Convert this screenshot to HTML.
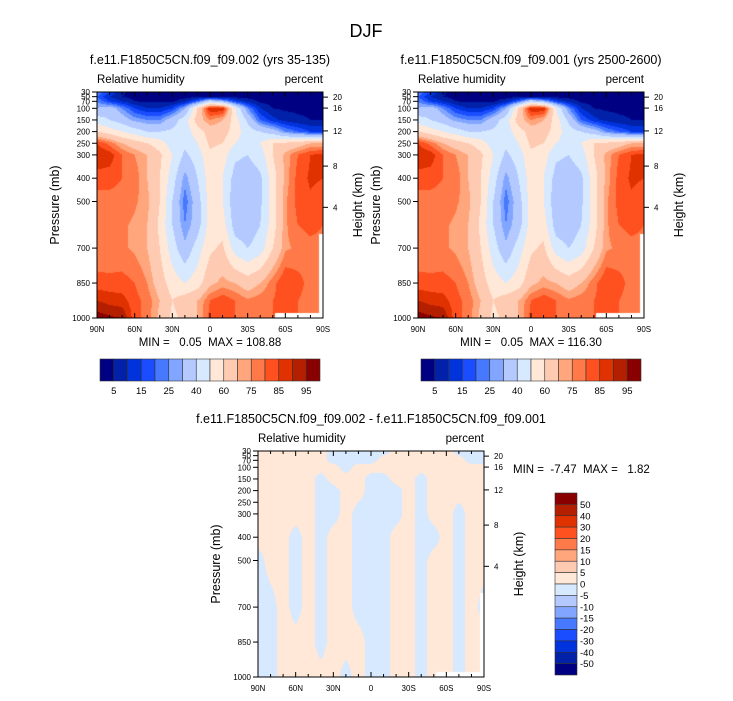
<!DOCTYPE html>
<html><head><meta charset="utf-8">
<style>
html,body{margin:0;padding:0;background:#fff;}
#root{position:relative;width:733px;height:701px;overflow:hidden;font-family:"Liberation Sans",sans-serif;}
canvas{position:absolute;}
svg{position:absolute;left:0;top:0;}
text{font-family:"Liberation Sans",sans-serif;fill:#000;white-space:pre;}
</style></head>
<body>
<div id="root">
<canvas id="c1" width="226" height="226" style="left:97px;top:92px"></canvas>
<canvas id="c2" width="226" height="226" style="left:418px;top:92px"></canvas>
<canvas id="c3" width="226" height="226" style="left:258px;top:451px"></canvas>
<svg id="svg" width="733" height="701"></svg>
</div>
<script>
// ---- data ----
const lats = [90,80,70,60,50,40,30,20,10,0,-10,-20,-30,-40,-50,-60,-70,-80,-90];
const levels = [30,50,70,100,150,200,250,300,400,500,600,700,850,925,1000];
const rhCase1 = [
[25,15,6,3,2,2,2,2,2,2,2,2,2,2,2,2,2,2,2],
[20,10,5,3,3,3,3,3,3,3,3,3,3,3,3,3,3,3,3],
[25,15,10,5,4,4,4,8,20,40,30,15,8,4,3,3,3,3,3],
[30,35,25,15,10,10,15,30,60,90,90,50,25,10,5,4,4,4,4],
[45,40,35,28,25,25,35,45,65,75,70,55,38,20,12,8,6,5,5],
[60,55,50,45,40,40,42,45,55,65,65,55,45,40,35,25,20,15,15],
[85,78,70,65,60,55,45,42,50,62,60,50,45,50,60,62,65,70,70],
[90,88,80,75,70,62,50,38,45,58,55,42,40,45,60,72,80,85,87],
[82,82,80,78,70,60,45,27,40,55,50,36,34,38,55,72,82,86,85],
[78,78,78,76,72,60,40,22,35,55,50,33,32,38,55,74,82,84,82],
[76,78,76,74,70,58,40,25,35,55,55,35,33,40,55,74,80,82,80],
[76,75,76,74,70,60,45,32,45,58,62,45,40,45,60,74,76,78,78],
[82,82,82,80,75,65,55,50,55,68,72,70,65,70,78,85,82,78,78],
[90,88,87,82,78,70,60,65,70,80,84,80,76,78,80,82,80,78,78],
[98,96,95,82,78,68,58,62,70,82,82,80,78,80,80,80,80,78,78]
];
const rhCase2 = rhCase1.map(r => r.slice());
const diffLevels = [30,70,100,150,200,300,400,500,700,850,1000];
const rhDiff = [
[1,1,1,1,1,1,-1,-1,-1,-1,-1,1,1,1,1,1,-1,-1,-1],
[1,1,1,1,1,1,-1,-1,-1,-1,1,1,1,1,1,1,1,-1,-1],
[1,1,1,1,1,1,1,-1,1,1,1,1,1,1,1,1,1,1,1],
[1,1,1,1,1,-1,1,1,1,-1,-1,1,1,-1,1,1,1,1,1],
[1,1,1,1,1,-1,-1,1,1,-1,-1,-1,1,-1,1,1,1,1,1],
[1,1,1,1,1,-1,-1,1,-1,-1,-1,-1,1,-1,1,1,-1,1,1],
[1,1,1,-1,1,-1,1,1,-1,-1,-1,1,1,-1,-1,1,-1,1,1],
[-1,1,1,-1,1,-1,1,1,-1,-1,-1,1,1,-1,1,1,-1,1,1],
[-1,-1,1,-1,1,-1,1,1,-1,-1,-1,1,1,-1,1,1,-1,1,-1],
[-1,-1,1,1,1,-1,1,1,1,-1,-1,1,1,-1,1,1,-1,1,1],
[-1,-1,1,1,1,1,1,-1,1,-1,-1,1,1,-1,1,1,-1,1,1]
];
const rhContours = [5,10,15,20,25,30,40,50,60,70,75,80,85,90,95];
const diffContours = [-50,-40,-30,-20,-15,-10,-5,0,5,10,15,20,30,40,50];
const rhLabels = ["5","15","25","40","60","75","85","95"];
const diffLabels = ["50","40","30","20","15","10","5","0","-5","-10","-15","-20","-30","-40","-50"];
const pTicks = [30,50,70,100,150,200,250,300,400,500,700,850,1000];
const hTicks = ["20","16","12","8","4"];
const hTickP = [52,99,197,348,525];
const latTicks = ["90N","60N","30N","0","30S","60S","90S"];
const palette = ['#000083','#0021a8','#0033dc','#1a4dff','#4679ff','#82a6ff','#b3c9ff','#d7e9ff','#ffe8d8','#ffcab2','#ffa67d','#ff7a48','#ff5020','#e03200','#b41f00','#890000'];

// ---- axes helpers ----
const S = 226;
const yP = p => (p - 30) / 970 * S;
const xL = l => (90 - l) / 180 * S;
// below-ground (missing) test
const missing = (l, p) => (p > 978 && l < -52) || (p > 640 && l < -87);

function field(ctx, grid, lv, cont) {
  const img = ctx.createImageData(S, S);
  for (let py = 0; py < S; py++) {
    const p = 30 + (py + 0.5) / S * 970;
    let i = 0; while (i < lv.length - 2 && lv[i + 1] < p) i++;
    const tp = Math.max(0, Math.min(1, (p - lv[i]) / (lv[i + 1] - lv[i])));
    for (let px = 0; px < S; px++) {
      const l = 90 - (px + 0.5) / S * 180;
      let j = Math.min(lats.length - 2, Math.floor((90 - l) / 10));
      const tl = (90 - l) / 10 - j;
      const cs = [[grid[i][j], (1 - tp) * (1 - tl)], [grid[i][j + 1], (1 - tp) * tl], [grid[i + 1][j], tp * (1 - tl)], [grid[i + 1][j + 1], tp * tl]];
      let sw = 0, sv = 0, nw = 0;
      cs.forEach(([v, w]) => { if (v === null) nw += w; else { sw += w; sv += v * w; } });
      const k = (py * S + px) * 4;
      let r = 255, g = 255, b = 255;
      if (nw < 0.5 && sw > 0 && !missing(l, p)) {
        const v = sv / sw;
        let idx = 0; while (idx < cont.length && v >= cont[idx]) idx++;
        const c = palette[idx];
        r = parseInt(c.substr(1, 2), 16); g = parseInt(c.substr(3, 2), 16); b = parseInt(c.substr(5, 2), 16);
      }
      img.data[k] = r; img.data[k + 1] = g; img.data[k + 2] = b; img.data[k + 3] = 255;
    }
  }
  ctx.putImageData(img, 0, 0);
}
field(document.getElementById('c1').getContext('2d'), rhCase1, levels, rhContours);
field(document.getElementById('c2').getContext('2d'), rhCase2, levels, rhContours);
field(document.getElementById('c3').getContext('2d'), rhDiff, diffLevels, diffContours);

const NS = 'http://www.w3.org/2000/svg';
const svg = document.getElementById('svg');
function el(tag, attrs, txt, parent) {
  const e = document.createElementNS(NS, tag);
  for (const k in attrs) e.setAttribute(k, attrs[k]);
  if (txt !== undefined) e.textContent = txt;
  (parent || svg).appendChild(e);
  return e;
}

function panel(x0, y0, name, title) {
  const g = el('g', {});
  
  
  const t = el('text', {x: x0 + S / 2, y: y0 - 28, 'font-size': 12.5, 'text-anchor': 'middle'}, title, g);
  
  
  const a = el('text', {x: x0, y: y0 - 9, 'font-size': 11.5}, 'Relative humidity', g);
  
  
  const u = el('text', {x: x0 + S, y: y0 - 9, 'font-size': 11.5, 'text-anchor': 'end'}, 'percent', g);
  
  
  const fr = el('rect', {x: x0, y: y0, width: S, height: S, fill: 'none', stroke: '#000', 'stroke-width': 1}, undefined, g);
  
  
  pTicks.forEach(p => {
    const y = y0 + yP(p);
    el('line', {x1: x0 - 5, x2: x0, y1: y, y2: y, stroke: '#000'}, undefined, g);
    const tl = el('text', {x: x0 - 7, y: y + 3, 'font-size': 8, 'text-anchor': 'end'}, String(p), g);
    
    
  });
  hTicks.forEach((h, i) => {
    const y = y0 + yP(hTickP[i]);
    el('line', {x1: x0 + S, x2: x0 + S + 5, y1: y, y2: y, stroke: '#000'}, undefined, g);
    const tl = el('text', {x: x0 + S + 10, y: y + 3, 'font-size': 8}, h, g);
    
    
  });
  for (let l = 90; l >= -90; l -= 10) {
    const x = x0 + xL(l);
    const len = (l % 30 === 0) ? 5 : 3;
    el('line', {x1: x, x2: x, y1: y0 + S, y2: y0 + S - len, stroke: '#000'}, undefined, g);
    el('line', {x1: x, x2: x, y1: y0, y2: y0 + len, stroke: '#000'}, undefined, g);
  }
  latTicks.forEach((lb, i) => {
    const x = x0 + xL(90 - i * 30);
    const tl = el('text', {x: x, y: y0 + S + 14, 'font-size': 8, 'text-anchor': 'middle'}, lb, g);
    
    
  });
  const yl = el('text', {x: 0, y: 0, 'font-size': 12.5, 'text-anchor': 'middle', transform: `translate(${x0 - 38},${y0 + S / 2}) rotate(-90)`}, 'Pressure (mb)', g);
  
  
  const yr = el('text', {x: 0, y: 0, 'font-size': 12.5, 'text-anchor': 'middle', transform: `translate(${x0 + S + 39},${y0 + S / 2}) rotate(-90)`}, 'Height (km)', g);
  
  
}

const main = el('text', {x: 366, y: 37, 'font-size': 18, 'text-anchor': 'middle'}, 'DJF');



panel(97, 92, 'panel-case-002', 'f.e11.F1850C5CN.f09_f09.002 (yrs 35-135)');
panel(418, 92, 'panel-case-001', 'f.e11.F1850C5CN.f09_f09.001 (yrs 2500-2600)');
panel(258, 451, 'panel-difference', 'f.e11.F1850C5CN.f09_f09.002 - f.e11.F1850C5CN.f09_f09.001');

const m1 = el('text', {x: 210, y: 346, 'font-size': 11.5, 'text-anchor': 'middle'}, 'MIN =   0.05  MAX = 108.88');


const m2 = el('text', {x: 531, y: 346, 'font-size': 11.5, 'text-anchor': 'middle'}, 'MIN =   0.05  MAX = 116.30');


const m3 = el('text', {x: 513, y: 473, 'font-size': 11.5}, 'MIN =  -7.47  MAX =   1.82');



function hbar(x0, y0, w, h, name) {
  const g = el('g', {});
  
  
  const bw = w / palette.length;
  palette.forEach((c, i) => {
    const r = el('rect', {x: x0 + i * bw, y: y0, width: bw, height: h, fill: c, stroke: '#333', 'stroke-width': 0.6}, undefined, g);
    
    
  });
  rhLabels.forEach((lb, i) => {
    const t = el('text', {x: x0 + (1 + 2 * i) * bw, y: y0 + h + 13, 'font-size': 9.5, 'text-anchor': 'middle'}, lb, g);
    
    
  });
}
hbar(100, 359, 220, 22, 'colorbar-case-002');
hbar(421, 359, 220, 22, 'colorbar-case-001');

(function () {
  const g = el('g', {});
  
  
  const x0 = 555, y0 = 493, w = 22, H = 182, bh = H / palette.length;
  palette.slice().reverse().forEach((c, i) => {
    const r = el('rect', {x: x0, y: y0 + i * bh, width: w, height: bh, fill: c, stroke: '#333', 'stroke-width': 0.6}, undefined, g);
    
    
  });
  diffLabels.forEach((lb, i) => {
    const t = el('text', {x: x0 + w + 3, y: y0 + (i + 1) * bh + 3.5, 'font-size': 9.5}, lb, g);
    
    
  });
})();
</script>
</body></html>
